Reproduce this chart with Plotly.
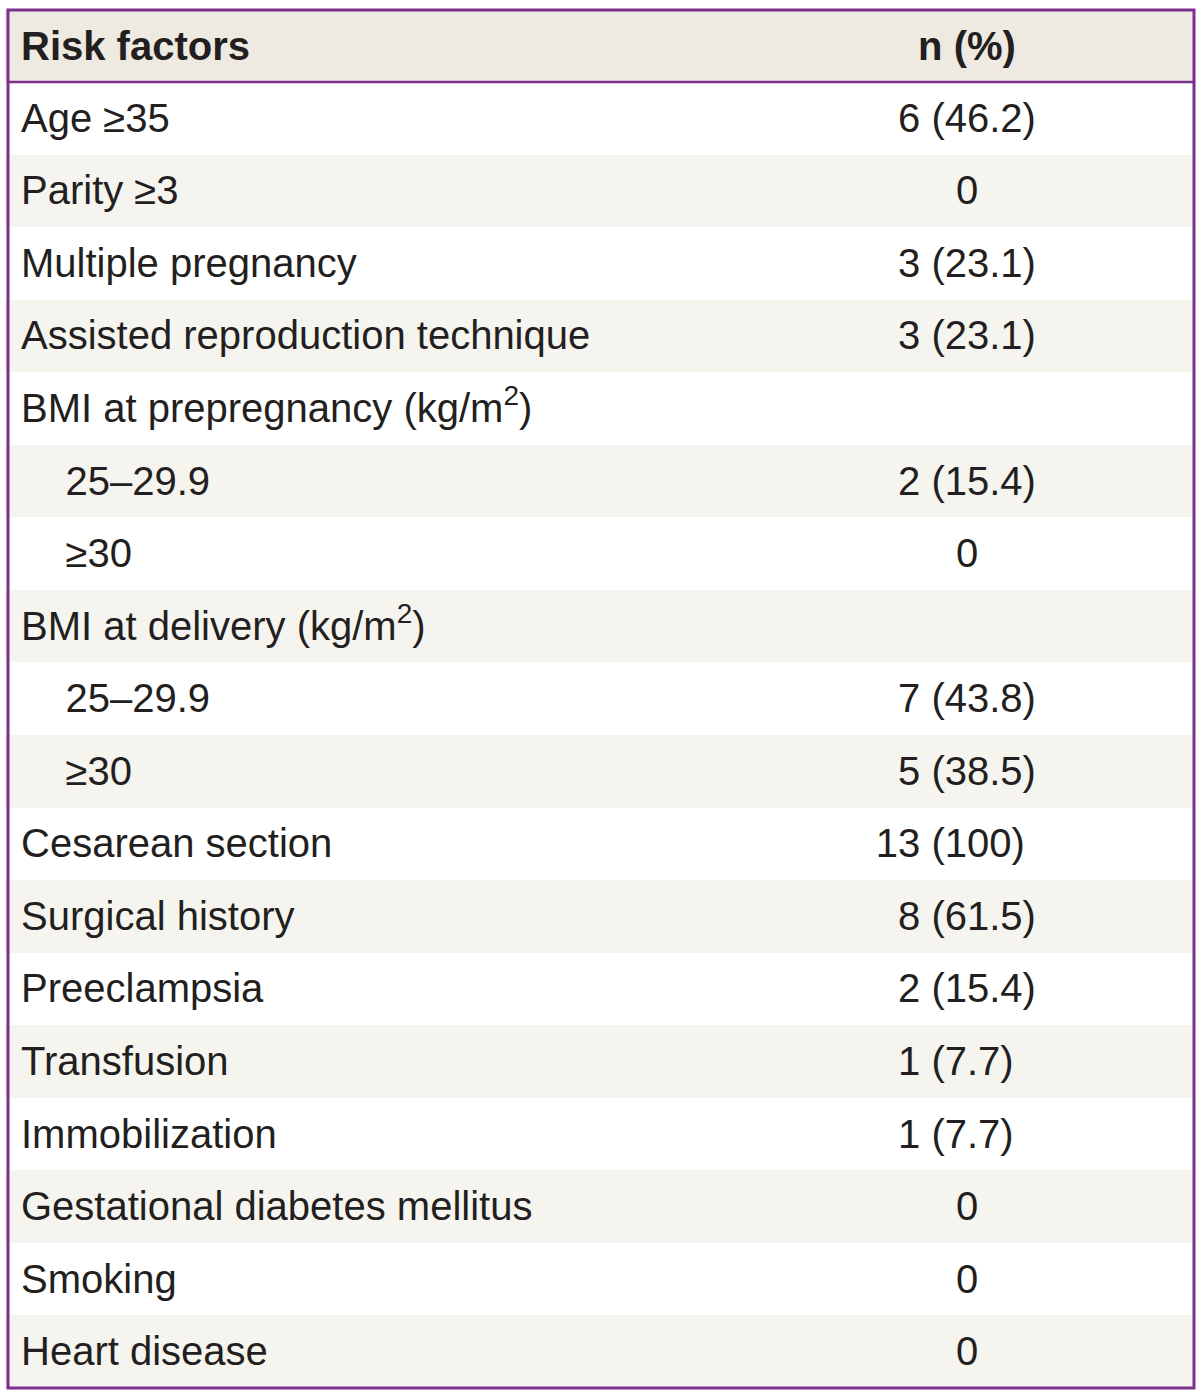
import plotly.graph_objects as go

header = ["<b>Risk factors</b>", "<b>n (%)</b>"]
IND = "\u00a0" * 4
factors = [
    "Age ≥35",
    "Parity ≥3",
    "Multiple pregnancy",
    "Assisted reproduction technique",
    "BMI at prepregnancy (kg/m<sup>2</sup>)",
    IND + "25–29.9",
    IND + "≥30",
    "BMI at delivery (kg/m<sup>2</sup>)",
    IND + "25–29.9",
    IND + "≥30",
    "Cesarean section",
    "Surgical history",
    "Preeclampsia",
    "Transfusion",
    "Immobilization",
    "Gestational diabetes mellitus",
    "Smoking",
    "Heart disease",
]
values = [
    "6 (46.2)", "0", "3 (23.1)", "3 (23.1)", "", "2 (15.4)", "0", "",
    "7 (43.8)", "5 (38.5)", "13 (100)", "8 (61.5)", "2 (15.4)", "1 (7.7)",
    "1 (7.7)", "0", "0", "0",
]

W, H = 1200, 1393
X0, X1 = 8, 1194
Y0, Y1 = 10, 1388
HEAD_H = 72
ROW_H = (Y1 - Y0 - HEAD_H) / len(factors)
PURPLE = "#7d2f8e"
HEAD_BG = "#eee9e1"
ALT_BG = "#f6f4ef"
TXT = "#231f20"
FONT = "Liberation Sans, Arial"
FS = 40

SUP = "<sup>\u00a0</sup>"   # keeps every line the same height as the kg/m² lines
TS = "\u2009"               # small left inset
FIG = "\u2007"              # figure space (digit width)
NB = "\u00a0"


def left(t):
    return TS + t + ("" if "<sup>" in t else SUP)


def centre(t):
    return SUP + t + SUP if t else t


def value_cell(t):
    # line the "(" up as in the source table
    if "(" not in t:
        return centre(t)
    head, rest = t.split(" (", 1)
    if len(head) > 1:
        pad = FIG + NB
    else:
        pad = FIG * (3 - sum(ch.isdigit() for ch in rest))
    return centre(t + pad)


row_fill = ["#ffffff" if i % 2 == 0 else ALT_BG for i in range(len(factors))]

fig = go.Figure(go.Table(
    domain=dict(x=[(X0 - 3) / W, X1 / W], y=[1 - Y1 / H, 1 - Y0 / H]),
    columnwidth=[735, 454],
    header=dict(
        values=[left(header[0]), centre(header[1])],
        height=HEAD_H,
        fill_color=HEAD_BG,
        line=dict(color=HEAD_BG, width=0),
        align=["left", "center"],
        font=dict(family=FONT, size=FS, color=TXT),
    ),
    cells=dict(
        values=[[left(f) for f in factors], [value_cell(v) for v in values]],
        height=ROW_H,
        fill_color=[row_fill, row_fill],
        line=dict(color=[row_fill, row_fill], width=0),
        align=["left", "center"],
        font=dict(family=FONT, size=FS, color=TXT),
    ),
))

fig.update_layout(
    width=W, height=H,
    margin=dict(l=0, r=0, t=0, b=0),
    paper_bgcolor="white",
    shapes=[
        dict(type="line", xref="paper", yref="paper",
             x0=X0 / W, x1=X1 / W, y0=1 - (Y0 + HEAD_H) / H, y1=1 - (Y0 + HEAD_H) / H,
             line=dict(color=PURPLE, width=2.5)),
        dict(type="rect", xref="paper", yref="paper",
             x0=X0 / W, x1=X1 / W, y0=1 - Y1 / H, y1=1 - Y0 / H,
             line=dict(color=PURPLE, width=3)),
    ],
)

fig.write_html("out.html", config={"displayModeBar": False},
               post_script="document.body.style.margin='0';")
